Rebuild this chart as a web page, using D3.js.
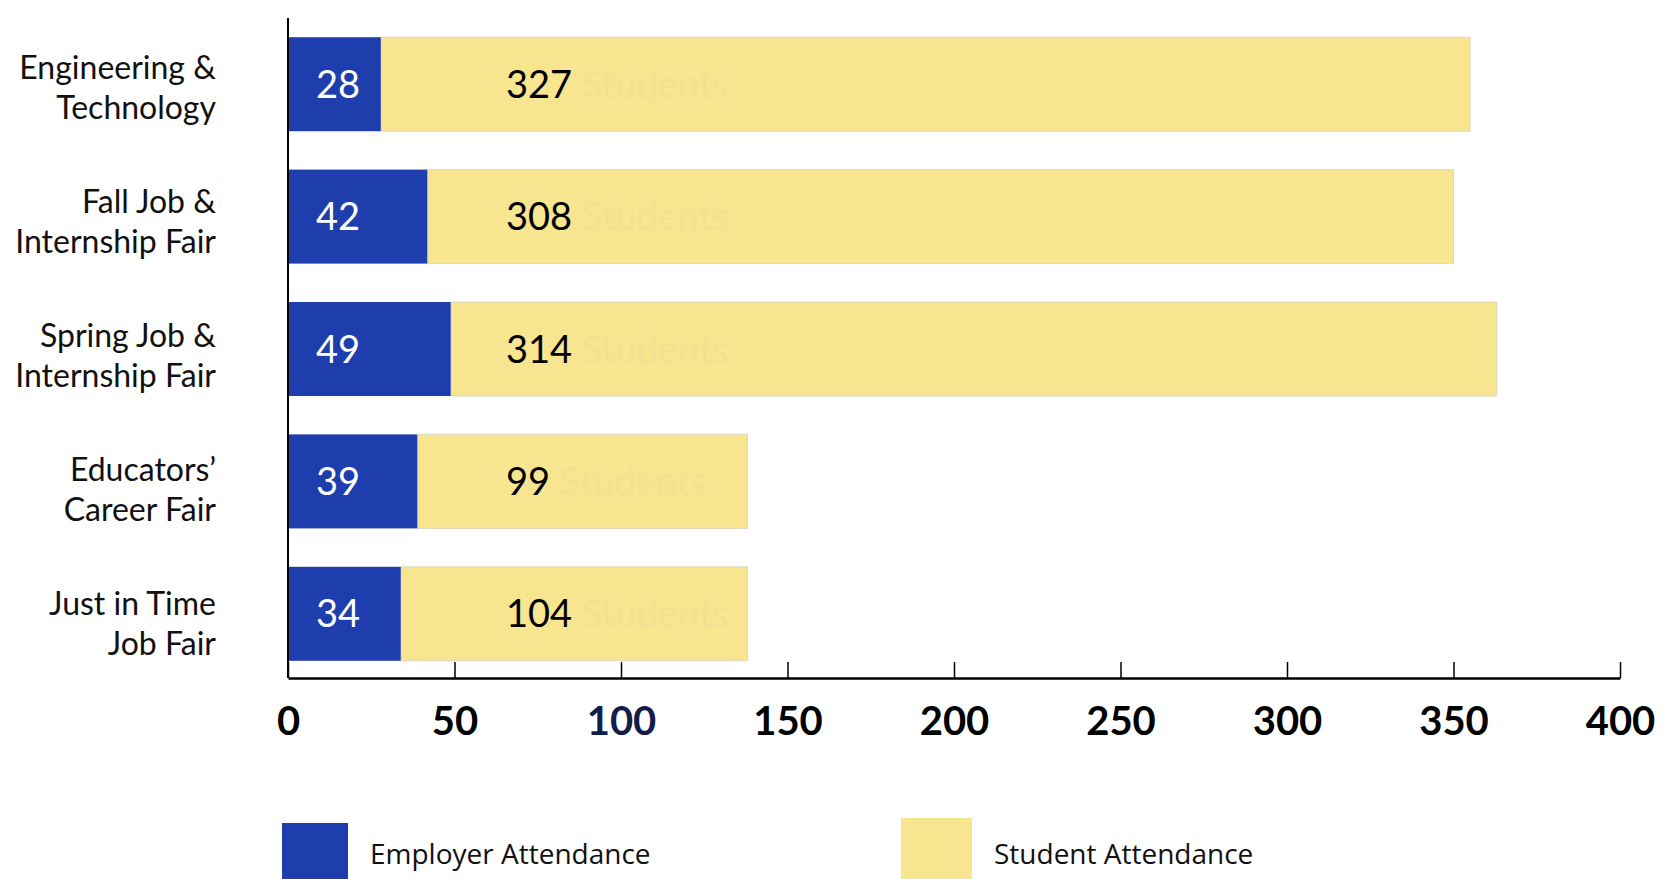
<!DOCTYPE html>
<html>
<head>
<meta charset="utf-8">
<script src="https://cdn.jsdelivr.net/npm/d3@7"></script>
<style>
  body { margin: 0; background: #fff; }
  svg { display: block; }
</style>
</head>
<body>
<div id="chart"></div>
<script>
// data
const fairs = [
  ["Engineering &", "Technology"],
  ["Fall Job &", "Internship Fair"],
  ["Spring Job &", "Internship Fair"],
  ["Educators’", "Career Fair"],
  ["Just in Time", "Job Fair"]
];
const employers = [28, 42, 49, 39, 34];
const students = [327, 308, 314, 99, 104];
const tickValues = [0, 50, 100, 150, 200, 250, 300, 350, 400];
const seriesNames = ["Employer Attendance", "Student Attendance"];

const width = 1670, height = 879;
const blue = "#1f3eae", yellow = "#f7e68f";

const svg = d3.select("#chart").append("svg")
  .attr("width", width)
  .attr("height", height);

const x = d3.scaleLinear().domain([0, 400]).range([288, 1620]);
const y = d3.scaleBand()
  .domain(d3.range(fairs.length))
  .range([18, 680])
  .paddingInner(0.29)
  .paddingOuter(0.145);

// bars
const rows = svg.append("g").selectAll("g")
  .data(fairs.map((f, i) => ({ i, emp: employers[i], stu: students[i] })))
  .join("g");

rows.append("rect")
  .attr("x", x(0))
  .attr("y", d => y(d.i))
  .attr("width", d => x(d.emp) - x(0))
  .attr("height", y.bandwidth())
  .attr("fill", blue);

rows.append("rect")
  .attr("x", d => x(d.emp))
  .attr("y", d => y(d.i))
  .attr("width", d => x(d.emp + d.stu) - x(d.emp))
  .attr("height", y.bandwidth())
  .attr("fill", yellow)
  .attr("stroke", "#ddd8c0")
  .attr("stroke-width", 1);

// value labels
rows.append("text")
  .attr("x", x(0) + 50)
  .attr("y", d => y(d.i) + y.bandwidth() / 2)
  .attr("dy", "0.36em")
  .attr("text-anchor", "middle")
  .attr("fill", "#fff")
  .style("font", "38px Lato")
  .text(d => d.emp);

const stuLabel = rows.append("text")
  .attr("x", x(0) + 218)
  .attr("y", d => y(d.i) + y.bandwidth() / 2)
  .attr("dy", "0.36em")
  .style("font", "38px Lato");
stuLabel.append("tspan").attr("fill", "#000").text(d => d.stu);
stuLabel.append("tspan").attr("fill", "#f2e193").text(" Students");

// category labels
const cat = svg.append("g").selectAll("text")
  .data(fairs)
  .join("text")
  .attr("text-anchor", "end")
  .attr("fill", "#111")
  .style("font", "32px Lato")
  .attr("transform", (d, i) => `translate(216,${y(i) + y.bandwidth() / 2 + i * 1.5})`);
cat.append("tspan").attr("x", 0).attr("y", -5).text(d => d[0]);
cat.append("tspan").attr("x", 0).attr("y", 35).text(d => d[1]);

// axes
const xAxis = svg.append("g")
  .attr("transform", `translate(0,${y.range()[1] - 2})`)
  .call(d3.axisBottom(x).tickValues(tickValues).tickSize(-16).tickSizeOuter(0).tickPadding(29));
xAxis.select(".domain").attr("stroke", "#000").attr("stroke-width", 2.5);
xAxis.selectAll(".tick line").attr("stroke", "#000").attr("stroke-width", 1.5);
xAxis.selectAll(".tick text")
  .style("font", "bold 40px Lato")
  .attr("fill", d => d === 100 ? "#141c4a" : "#000");

svg.append("line")
  .attr("x1", x(0)).attr("x2", x(0))
  .attr("y1", y.range()[0]).attr("y2", y.range()[1] - 2)
  .attr("stroke", "#000").attr("stroke-width", 2);

// legend
const legend = [
  { name: seriesNames[0], color: blue, x: 282, y: 823, w: 66 },
  { name: seriesNames[1], color: yellow, x: 901, y: 818, w: 71 }
];
const lg = svg.append("g").selectAll("g").data(legend).join("g");
lg.append("rect")
  .attr("x", d => d.x).attr("y", d => d.y)
  .attr("width", d => d.w).attr("height", 70)
  .attr("fill", d => d.color);
lg.append("text")
  .attr("x", d => d.x + d.w + 22)
  .attr("y", 864)
  .attr("fill", "#111")
  .style("font", "28px 'Open Sans'")
  .text(d => d.name);
</script>
</body>
</html>
